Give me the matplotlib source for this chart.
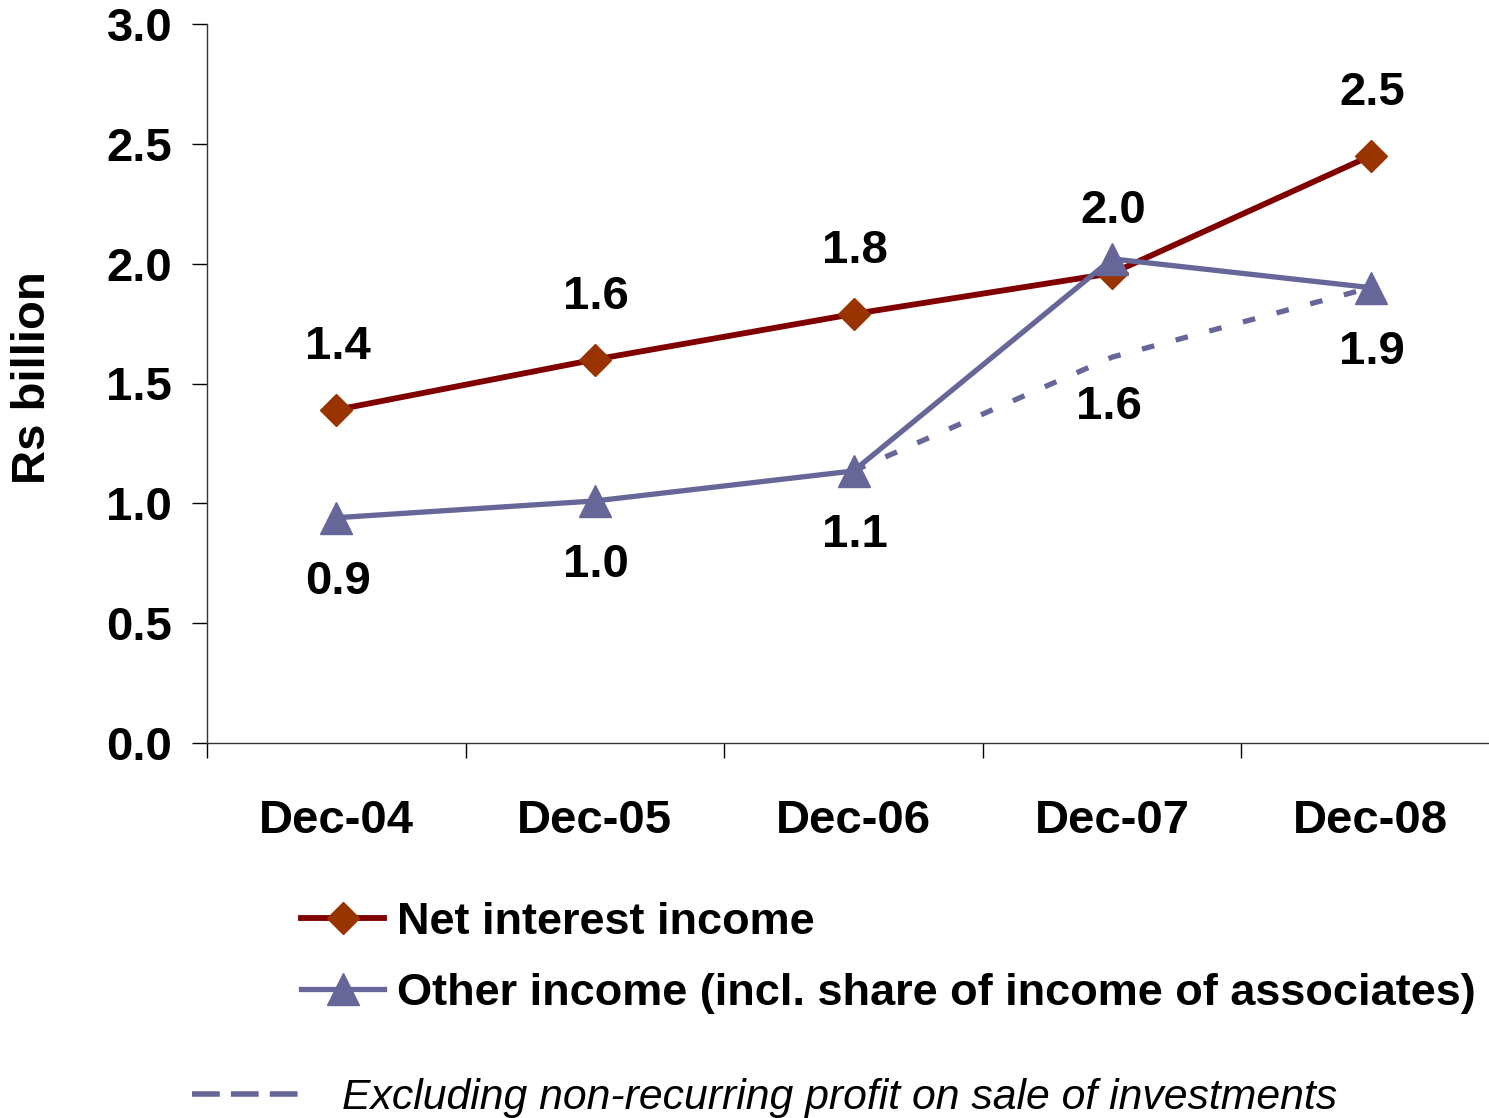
import matplotlib.pyplot as plt
from matplotlib.lines import Line2D
import numpy as np

# Net interest income and other income, Rs billion
periods = ['Dec-04', 'Dec-05', 'Dec-06', 'Dec-07', 'Dec-08']
net_interest = [1.39, 1.60, 1.79, 1.96, 2.45]
other_income = [0.94, 1.01, 1.135, 2.02, 1.90]
other_excl = [np.nan, np.nan, 1.135, 1.61, 1.90]

# which points carry a value label
other_labels = [True, True, True, False, True]
excl_labels = [False, False, False, True, False]

red_line = '#800000'
red_marker = '#993300'
purple = '#666699'
fs = 34

plt.rcParams['font.family'] = ['Liberation Sans', 'DejaVu Sans']

fig = plt.figure(figsize=(14.89, 11.18), dpi=100)
ax = fig.add_axes([207 / 1489, 1 - 743 / 1118, 1293 / 1489, 719 / 1118])

x = np.arange(len(periods))

ax.plot(x, other_excl, color=purple, lw=3.8, dashes=(2.4, 4.2), zorder=2)
ax.plot(x, net_interest, color=red_line, lw=4.2, marker='D', ms=16.3,
        mfc=red_marker, mec=red_marker, zorder=3)
ax.plot(x, other_income, color=purple, lw=3.8, marker='^', ms=23,
        mfc=purple, mec=purple, zorder=4)

# value labels
for xi, v in zip(x, net_interest):
    ax.annotate(f'{v:.1f}', (xi, v), xytext=(1, 45), textcoords='offset points',
                ha='center', va='center', fontsize=fs, fontweight='bold')
for xi, v, show in zip(x, other_income, other_labels):
    if show:
        ax.annotate(f'{v:.1f}', (xi, v), xytext=(1, -46), textcoords='offset points',
                    ha='center', va='center', fontsize=fs, fontweight='bold')
for xi, v, show in zip(x, other_excl, excl_labels):
    if show:
        ax.annotate(f'{v:.1f}', (xi, v), xytext=(-2, -36), textcoords='offset points',
                    ha='center', va='center', fontsize=fs, fontweight='bold')

ax.set_xlim(-0.5, 4.5)
ax.set_ylim(0, 3.0)
ax.set_yticks(np.arange(0, 3.01, 0.5))
ax.set_yticklabels([f'{t:.1f}' for t in np.arange(0, 3.01, 0.5)],
                   fontsize=fs, fontweight='bold')
ax.tick_params(axis='y', direction='out', length=11, width=1, pad=14)

# category boundaries as major ticks, names on minor ticks
ax.set_xticks(np.arange(-0.5, 5, 1.0))
ax.set_xticklabels([])
ax.set_xticks(x, minor=True)
ax.set_xticklabels(periods, minor=True, fontsize=fs, fontweight='bold')
ax.tick_params(axis='x', which='major', direction='out', length=11, width=1)
ax.tick_params(axis='x', which='minor', length=0, pad=40)

for side in ['top', 'right']:
    ax.spines[side].set_visible(False)
for side in ['left', 'bottom']:
    ax.spines[side].set_linewidth(1)
    ax.spines[side].set_color('#333333')

fig.text(33 / 1489, 1 - 378 / 1118, 'Rs billion', rotation=90, ha='center',
         va='center', fontsize=fs, fontweight='bold')

handles = [
    Line2D([], [], color=red_line, lw=4.2, marker='D', ms=16.3, mfc=red_marker, mec=red_marker),
    Line2D([], [], color=purple, lw=3.8, marker='^', ms=23, mfc=purple, mec=purple),
]
fig.legend(handles, ['Net interest income',
                     'Other income (incl. share of income of associates)'],
           loc='upper left', bbox_to_anchor=(301 / 1489, 1 - 902 / 1118),
           frameon=False, borderpad=0, borderaxespad=0, handlelength=1.84,
           handletextpad=0.29, labelspacing=0.66,
           prop={'size': 32.5, 'weight': 'bold'})

dash_handle = Line2D([], [], color=purple, lw=4, dashes=(5, 2))
fig.legend([dash_handle], ['Excluding non-recurring profit on sale of investments'],
           loc='upper left', bbox_to_anchor=(192 / 1489, 1 - 1078 / 1118),
           frameon=False, borderpad=0, borderaxespad=0, handlelength=2.55,
           handletextpad=0.96, prop={'size': 30.8, 'style': 'italic'})

fig.savefig('out.png', dpi=100)
